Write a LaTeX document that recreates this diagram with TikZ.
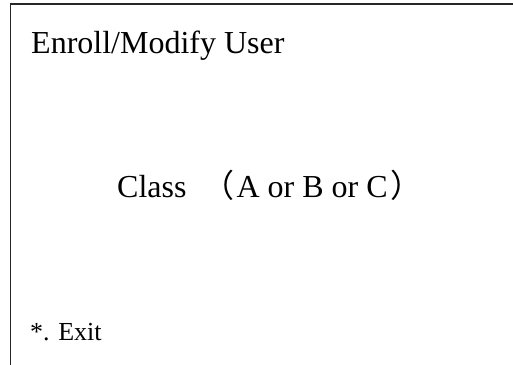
\documentclass[tikz,border=0pt]{standalone}
\usepackage{fontspec}
\setmainfont{Liberation Serif}
\newfontfamily\cjk{Noto Sans CJK SC}
\begin{document}
\begin{tikzpicture}[x=1pt, y=-1pt, every node/.style={inner sep=0pt, anchor=base west}]
        \useasboundingbox (0,0) rectangle (513,364);
        \draw[line width=1.4pt, black!85] (10.5,380) -- (10.5,4) -- (530,4);

        \node (title) at (31,53) {\fontsize{32}{38}\selectfont Enroll/Modify User};
        \node (class) at (117,197) {\fontsize{32}{38}\selectfont Class\hspace{16pt}{\cjk （}\hspace{2pt}A or B or C\hspace{3pt}{\cjk ）}};
        \node (exit) at (30,340) {\fontsize{26}{31}\selectfont *. Exit};
      \end{tikzpicture}
\end{document}
